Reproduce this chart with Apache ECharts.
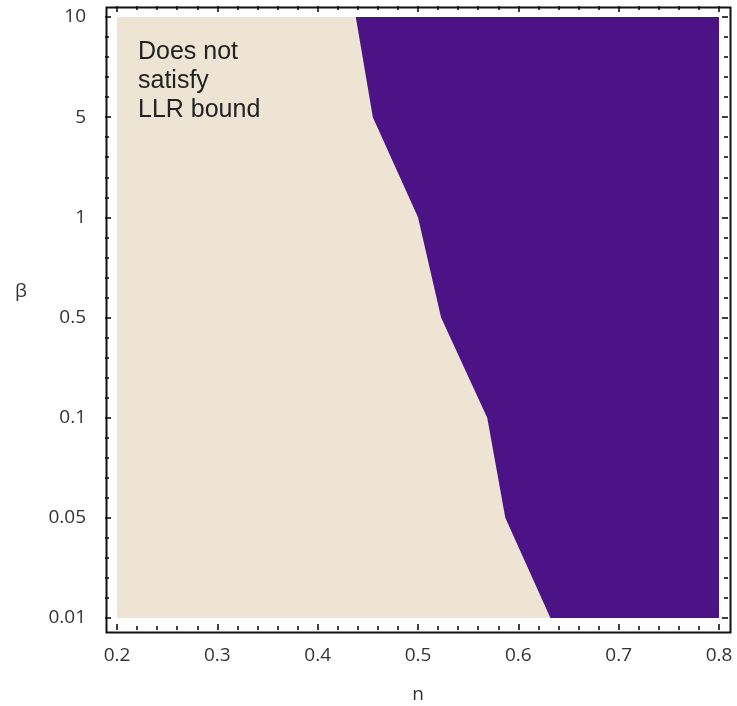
<!DOCTYPE html>
<html>
<head>
<meta charset="utf-8">
<script src="https://cdn.jsdelivr.net/npm/echarts@6/dist/echarts.min.js"></script>
<style>
  html, body { margin: 0; padding: 0; background: #fff; }
  #chart { width: 737px; height: 706px; }
</style>
</head>
<body>
<div id="chart"></div>
<script>
/* ---------- data ---------- */

// β axis: equally spaced labels, plotted at index 0..6
const betaLabels = ['0.01', '0.05', '0.1', '0.5', '1', '5', '10'];
const betaIndex = [0, 1, 2, 3, 4, 5, 6];
// boundary n for each β
const boundaryN = [0.632, 0.587, 0.569, 0.523, 0.5, 0.455, 0.438];
const nRange = [0.2, 0.8];
const noteLines = ['Does not', 'satisfy', 'LLR bound'];

/* ---------- styles ---------- */

const BEIGE = '#ede4d3';
const PURPLE = '#4b1386';
const LABEL = { color: '#333', fontSize: 19, fontFamily: 'Open Sans' };
const TICK = { show: true, inside: true, length: 6, lineStyle: { color: '#000', width: 1.5 } };
const MINOR = { show: true, splitNumber: 5, length: 4, lineStyle: { color: '#000', width: 1.5 } };

const chart = echarts.init(document.getElementById('chart'), null, { renderer: 'canvas' });

function xAxisOf(position, offset, showLabel) {
  return {
    type: 'value', position, offset,
    min: nRange[0], max: nRange[1], interval: 0.1,
    axisLine: { show: false, onZero: false }, splitLine: { show: false },
    axisTick: TICK, minorTick: MINOR,
    axisLabel: { show: showLabel, margin: 16, ...LABEL, formatter: (v) => v.toFixed(1) },
  };
}

function yAxisOf(position, offset, showLabel) {
  return {
    type: 'value', position, offset,
    min: betaIndex[0], max: betaIndex[betaIndex.length - 1], interval: 1,
    axisLine: { show: false, onZero: false }, splitLine: { show: false },
    axisTick: TICK, minorTick: MINOR,
    axisLabel: { show: showLabel, margin: 19, ...LABEL, formatter: (v) => betaLabels[v] ?? '' },
  };
}

chart.setOption({
  animation: false,
  backgroundColor: '#fff',
  grid: { left: 117, right: 18, top: 17, bottom: 88, outerBoundsMode: 'none' },
  xAxis: [
    {
      ...xAxisOf('bottom', 12, true),
      name: 'n', nameLocation: 'middle', nameGap: 55,
      nameTextStyle: LABEL,
    },
    xAxisOf('top', 11, false),
  ],
  yAxis: [
    {
      ...yAxisOf('left', 12, true),
      name: 'β\n ', nameLocation: 'middle', nameGap: 78, nameRotate: 0,
      nameTextStyle: { ...LABEL, lineHeight: 52 },
    },
    yAxisOf('right', 9, false),
  ],
  series: [
    {
      // whole region (does not satisfy)
      type: 'custom', silent: true,
      data: [[nRange[0], betaIndex[0]]],
      renderItem: (params, api) => {
        const top = betaIndex[betaIndex.length - 1];
        const pts = [
          api.coord([nRange[0], top]), api.coord([nRange[1], top]),
          api.coord([nRange[1], betaIndex[0]]), api.coord([nRange[0], betaIndex[0]]),
        ];
        return { type: 'polygon', shape: { points: pts }, style: { fill: BEIGE } };
      },
    },
    {
      // region right of the boundary
      type: 'custom', silent: true,
      data: [[nRange[1], betaIndex[0]]],
      renderItem: (params, api) => {
        const pts = betaIndex.map((b, i) => api.coord([boundaryN[i], b]));
        pts.push(api.coord([nRange[1], betaIndex[betaIndex.length - 1]]));
        pts.push(api.coord([nRange[1], betaIndex[0]]));
        return { type: 'polygon', shape: { points: pts }, style: { fill: PURPLE } };
      },
    },
  ],
  graphic: [
    {
      // plot frame, about 12px outside the data area
      type: 'rect', left: 104, top: 5, z: 100, silent: true,
      shape: { width: 624, height: 625 },
      style: { fill: 'none', stroke: '#111', lineWidth: 2 },
    },
    {
      type: 'text', left: 138, top: 38, z: 100, silent: true,
      style: {
        text: noteLines.join('\n'),
        fontFamily: 'Liberation Sans', fontSize: 25, lineHeight: 29, fill: '#222',
      },
    },
  ],
});
</script>
</body>
</html>
